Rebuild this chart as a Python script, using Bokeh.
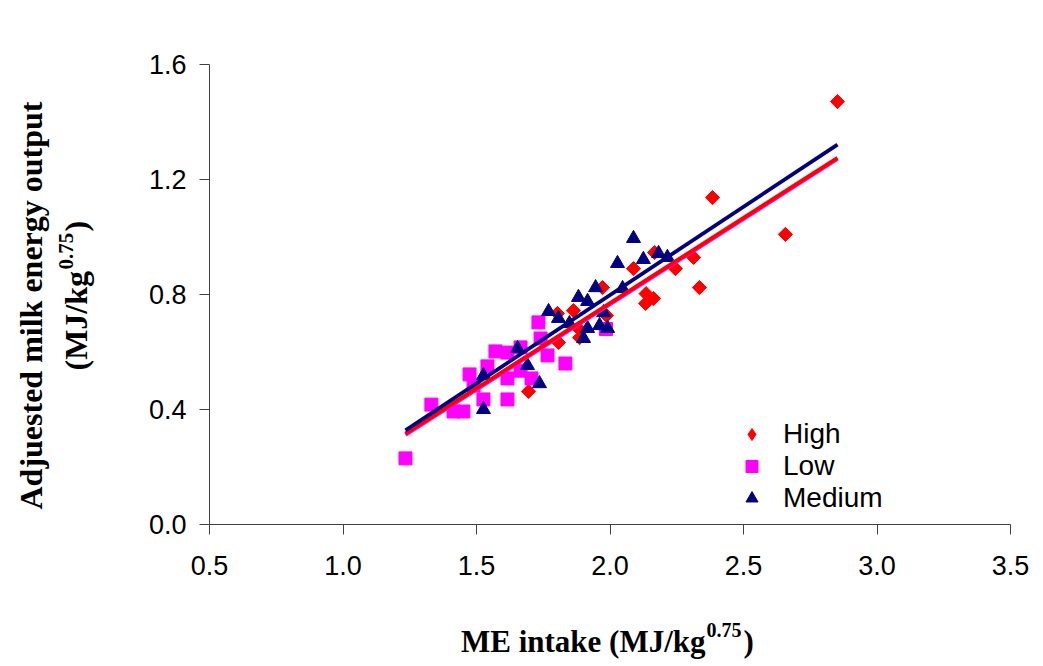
import numpy as np
from bokeh.plotting import figure
from bokeh.models import (Label, Legend, LegendItem, Range1d, FixedTicker,
                          PrintfTickFormatter)
from bokeh.embed import file_html
from bokeh.resources import INLINE

# ---------------- data ----------------
high_x = [2.852, 2.384, 2.657, 2.313, 2.335, 2.245, 2.167, 2.088, 2.135, 2.163,
          2.133, 1.972, 1.987, 1.863, 1.882, 1.886, 1.803, 1.807, 1.695]
high_y = [1.471, 1.137, 1.009, 0.929, 0.824, 0.890, 0.946, 0.890, 0.803, 0.786,
          0.769, 0.824, 0.727, 0.744, 0.682, 0.650, 0.734, 0.633, 0.463]

low_x = [1.234, 1.331, 1.414, 1.451, 1.474, 1.489, 1.541, 1.526, 1.571, 1.616,
         1.616, 1.616, 1.665, 1.665, 1.706, 1.732, 1.740, 1.766, 1.833, 1.985]
low_y = [0.230, 0.417, 0.393, 0.393, 0.522, 0.483, 0.550, 0.435, 0.602, 0.598,
         0.508, 0.435, 0.616, 0.535, 0.508, 0.703, 0.647, 0.588, 0.560, 0.680]

med_x = [1.526, 1.526, 1.654, 1.691, 1.736, 1.770, 1.807, 1.848, 1.882, 1.916,
         1.901, 1.916, 1.946, 1.961, 1.991, 1.976, 2.047, 2.028, 2.088, 2.125,
         2.182, 2.215]
med_y = [0.400, 0.518, 0.612, 0.553, 0.490, 0.741, 0.717, 0.699, 0.790, 0.776,
         0.647, 0.682, 0.824, 0.692, 0.682, 0.737, 0.821, 0.908, 0.995, 0.922,
         0.943, 0.929]

# fitted regression lines (slope, intercept)
fit_names = ["Low", "High", "Medium"]
fit_slopes = [0.593, 0.593, 0.614]
fit_intercepts = [-0.420, -0.416, -0.430]
fit_colors = ["#FF00FF", "#FF0000", "#000080"]

x_ticks = [0.5, 1.0, 1.5, 2.0, 2.5, 3.0, 3.5]
y_ticks = [0.0, 0.4, 0.8, 1.2, 1.6]

# ---------------- layout geometry (pixels) ----------------
W, H = 1040, 662
X0_PX, PX_PER_X = 209.0, 267.0     # pixel of x=0.5, pixels per x unit
Y0_PX, PX_PER_Y = 524.0, 287.5     # pixel of y=0,   pixels per y unit


def px_to_x(px):
    return 0.5 + (px - X0_PX) / PX_PER_X


def py_to_y(py):
    return (Y0_PX - py) / PX_PER_Y


p = figure(width=W, height=H,
           x_range=Range1d(px_to_x(0), px_to_x(W)),
           y_range=Range1d(py_to_y(H), py_to_y(0)),
           output_backend="svg", toolbar_location=None,
           min_border=0, min_border_left=0, min_border_right=0,
           min_border_top=0, min_border_bottom=0)
p.title.visible = False
p.background_fill_color = "white"
p.border_fill_color = "white"
p.outline_line_color = None
p.grid.visible = False

xa, ya = p.xaxis[0], p.yaxis[0]
xa.fixed_location = 0.0
xa.bounds = (x_ticks[0], x_ticks[-1])
ya.fixed_location = 0.5
ya.bounds = (y_ticks[0], y_ticks[-1])
for ax in (xa, ya):
    ax.axis_line_color = "#404040"
    ax.axis_line_width = 1
    ax.major_tick_line_color = "#404040"
    ax.major_tick_in = 0
    ax.major_tick_out = 10
    ax.minor_tick_line_color = None
    ax.major_label_text_font = "Liberation Sans"
    ax.major_label_text_font_size = "27px"
    ax.major_label_text_color = "black"
    ax.formatter = PrintfTickFormatter(format="%.1f")
xa.ticker = FixedTicker(ticks=x_ticks)
ya.ticker = FixedTicker(ticks=y_ticks)
xa.major_label_standoff = 21
ya.major_label_standoff = 13

# ---------------- points ----------------
# narrow diamond underneath (used for the legend key), covered by rotated squares
r_high_key = p.scatter(high_x, high_y, marker="diamond", size=13,
                       fill_color="#FF0000", line_color="#FF0000")
r_high = p.scatter(high_x, high_y, marker="square", angle=np.pi / 4, size=10,
                   fill_color="#FF0000", line_color="#FF0000")
r_low = p.scatter(low_x, low_y, marker="square", size=13,
                  fill_color="#FF00FF", line_color="#FF00FF")
r_med = p.scatter(med_x, med_y, marker="triangle", size=14,
                  fill_color="#000080", line_color="#000080")

# ---------------- regression lines ----------------
all_x = high_x + low_x + med_x
x_line = np.array([min(all_x), max(all_x)])
for name, m, b, c in zip(fit_names, fit_slopes, fit_intercepts, fit_colors):
    p.line(x_line, m * x_line + b, line_color=c, line_width=3.8)

# ---------------- legend ----------------
legend = Legend(items=[LegendItem(label="High", renderers=[r_high_key]),
                       LegendItem(label="Low", renderers=[r_low]),
                       LegendItem(label="Medium", renderers=[r_med])],
                location=(735, H - 514), orientation="vertical",
                border_line_color=None, background_fill_alpha=0,
                padding=0, margin=0, spacing=0,
                glyph_width=33, glyph_height=30, label_height=30,
                label_standoff=15,
                label_text_font="Liberation Sans", label_text_font_size="28px",
                label_text_color="black")
p.add_layout(legend)

# ---------------- axis titles (with superscripts) ----------------
serif = "Liberation Serif"


def add_text(px, py, text, size, align="left", angle=0.0):
    p.add_layout(Label(x=px_to_x(px), y=py_to_y(py), text=text, angle=angle,
                       text_font=serif, text_font_style="bold",
                       text_font_size=size, text_align=align,
                       text_baseline="alphabetic", text_color="black"))


# x title
add_text(705, 641, "ME intake (MJ/kg", "31px", align="right")
add_text(706, 629, "0.75", "20px")
add_text(743, 641, ")", "31px")

# y title (rotated, reads bottom to top)
add_text(30, 305, "Adjuested milk energy output", "32px", align="center", angle=np.pi / 2)
add_text(75, 370, "(MJ/kg", "32px", angle=np.pi / 2)
add_text(65, 269, "0.75", "21px", angle=np.pi / 2)
add_text(75, 231, ")", "32px", angle=np.pi / 2)

open("out.html", "w").write(file_html(p, INLINE))
